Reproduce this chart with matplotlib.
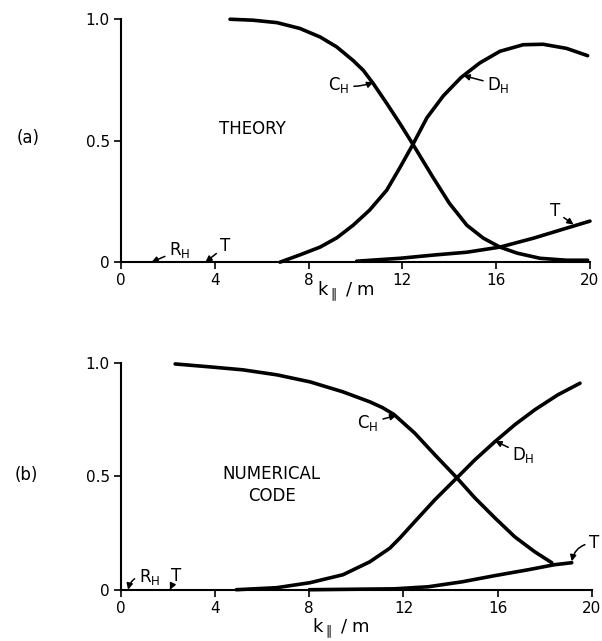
import matplotlib
matplotlib.use("Agg")
import matplotlib.pyplot as plt

plt.rcParams['font.family'] = ['DejaVu Sans']
plt.rcParams['mathtext.default'] = 'regular'

# ---- (a) theory ----
a_ch_k = [4.65, 5.63, 6.65, 7.63, 8.49, 9.2, 9.9, 10.33, 10.76, 11.33, 11.9, 12.45,
          13.3, 14.0, 14.75, 15.45, 16.16, 16.9, 17.87, 19.0, 19.9]
a_ch_v = [1.0, 0.996, 0.986, 0.962, 0.927, 0.886, 0.83, 0.79, 0.735, 0.654, 0.57, 0.485,
          0.35, 0.243, 0.152, 0.099, 0.062, 0.037, 0.016, 0.008, 0.008]

a_dh_k = [6.78, 7.63, 8.49, 9.2, 9.9, 10.6, 11.33, 11.9, 12.45, 13.05, 13.75, 14.5,
          15.3, 16.16, 17.15, 18.0, 19.0, 19.9]
a_dh_v = [0.0, 0.03, 0.062, 0.10, 0.152, 0.214, 0.296, 0.39, 0.485, 0.595, 0.685, 0.76,
          0.82, 0.868, 0.895, 0.897, 0.88, 0.85]

a_t_k = [10.05, 11.9, 13.3, 14.75, 16.16, 17.6, 19.0, 20.0]
a_t_v = [0.004, 0.016, 0.029, 0.041, 0.062, 0.099, 0.14, 0.169]

# ---- (b) numerical code ----
b_ch_k = [2.3, 3.78, 5.18, 6.62, 8.03, 9.43, 10.57, 11.1, 11.6, 12.48, 13.33, 14.27, 15.03,
          15.88, 16.73, 17.58, 18.3]
b_ch_v = [0.995, 0.982, 0.969, 0.947, 0.916, 0.872, 0.828, 0.803, 0.772, 0.69, 0.595, 0.493,
          0.405, 0.317, 0.233, 0.167, 0.119]

b_dh_k = [4.9, 6.62, 8.03, 9.43, 10.57, 11.42, 11.85, 12.48, 13.33, 14.27, 15.03, 15.88,
          16.73, 17.58, 18.56, 19.5]
b_dh_v = [0.0, 0.009, 0.031, 0.066, 0.123, 0.183, 0.228, 0.30, 0.396, 0.493, 0.572, 0.652,
          0.727, 0.793, 0.859, 0.91]

b_t_k = [8.0, 11.63, 13.05, 14.5, 15.88, 17.3, 18.4, 19.15]
b_t_v = [0.0, 0.004, 0.013, 0.035, 0.062, 0.088, 0.11, 0.119]

x_ticks = [0, 4, 8, 12, 16, 20]
x_tick_labels = ["0", "4", "8", "12", "16", "20"]
y_ticks = [0, 0.5, 1.0]
y_tick_labels = ["0", "0.5", "1.0"]

fig = plt.figure(figsize=(6.02, 6.41), dpi=100)
ax_a = fig.add_axes([0.201, 0.591, 0.779, 0.379])
ax_b = fig.add_axes([0.201, 0.080, 0.782, 0.354])

curve_kw = dict(color='black', lw=2.6, solid_capstyle='round', solid_joinstyle='round',
                clip_on=False)
arrow_kw = dict(arrowstyle='-|>', color='black', lw=1.1, mutation_scale=9,
                shrinkA=1, shrinkB=0)
lab_fs = 12

for ax in (ax_a, ax_b):
    ax.set_xlim(0, 20)
    ax.set_ylim(0, 1.0)
    for s in ('top', 'right'):
        ax.spines[s].set_visible(False)
    for s in ('left', 'bottom'):
        ax.spines[s].set_linewidth(1.5)
    ax.set_xticks(x_ticks)
    ax.set_xticklabels(x_tick_labels, fontsize=11)
    ax.set_yticks(y_ticks)
    ax.set_yticklabels(y_tick_labels, fontsize=11)
    ax.tick_params(direction='out', length=5, width=1.2, pad=3)

# panel (a)
ax_a.plot(a_ch_k, a_ch_v, **curve_kw)
ax_a.plot(a_dh_k, a_dh_v, **curve_kw)
ax_a.plot(a_t_k, a_t_v, **curve_kw)
ax_a.text(5.6, 0.55, "THEORY", fontsize=lab_fs, ha='center', va='center')
ax_a.annotate(r"C$_H$", xy=(10.76, 0.74), xytext=(9.3, 0.73), fontsize=lab_fs,
              ha='center', va='center',
              arrowprops=dict(**arrow_kw, connectionstyle="arc3,rad=0.15"))
ax_a.annotate(r"D$_H$", xy=(14.6, 0.768), xytext=(16.1, 0.73), fontsize=lab_fs,
              ha='center', va='center', arrowprops=dict(**arrow_kw))
ax_a.annotate("T", xy=(19.3, 0.155), xytext=(18.5, 0.21), fontsize=lab_fs,
              ha='center', va='center', annotation_clip=False,
              arrowprops=dict(**arrow_kw))
ax_a.annotate(r"R$_H$", xy=(1.3, 0.0), xytext=(2.5, 0.05), fontsize=lab_fs,
              ha='center', va='center', arrowprops=dict(**arrow_kw))
ax_a.annotate("T", xy=(3.6, 0.0), xytext=(4.45, 0.065), fontsize=lab_fs,
              ha='center', va='center', arrowprops=dict(**arrow_kw))
ax_a.text(0.48, -0.12, r"k$_{\parallel}$ / m", transform=ax_a.transAxes,
          fontsize=13, ha='center', va='center')

# panel (b)
ax_b.plot(b_ch_k, b_ch_v, **curve_kw)
ax_b.plot(b_dh_k, b_dh_v, **curve_kw)
ax_b.plot(b_t_k, b_t_v, **curve_kw)
ax_b.text(6.4, 0.46, "NUMERICAL\nCODE", fontsize=lab_fs, ha='center', va='center',
          linespacing=1.3)
ax_b.annotate(r"C$_H$", xy=(11.7, 0.768), xytext=(10.5, 0.735), fontsize=lab_fs,
              ha='center', va='center', arrowprops=dict(**arrow_kw))
ax_b.annotate(r"D$_H$", xy=(15.9, 0.655), xytext=(17.1, 0.595), fontsize=lab_fs,
              ha='center', va='center', arrowprops=dict(**arrow_kw))
ax_b.annotate("T", xy=(19.15, 0.125), xytext=(20.1, 0.205), fontsize=lab_fs,
              ha='center', va='center', annotation_clip=False,
              arrowprops=dict(**arrow_kw, connectionstyle="arc3,rad=0.4"))
ax_b.annotate(r"R$_H$", xy=(0.3, 0.0), xytext=(1.2, 0.055), fontsize=lab_fs,
              ha='center', va='center',
              arrowprops=dict(**arrow_kw, connectionstyle="arc3,rad=0.5"))
ax_b.annotate("T", xy=(2.08, 0.0), xytext=(2.35, 0.06), fontsize=lab_fs,
              ha='center', va='center', arrowprops=dict(**arrow_kw))
ax_b.text(0.467, -0.167, r"k$_{\parallel}$ / m", transform=ax_b.transAxes,
          fontsize=13, ha='center', va='center')

fig.text(28 / 602, 1 - 138 / 641, "(a)", fontsize=12, ha='center', va='center')
fig.text(26 / 602, 1 - 475 / 641, "(b)", fontsize=12, ha='center', va='center')

fig.savefig("out.png", dpi=100)
